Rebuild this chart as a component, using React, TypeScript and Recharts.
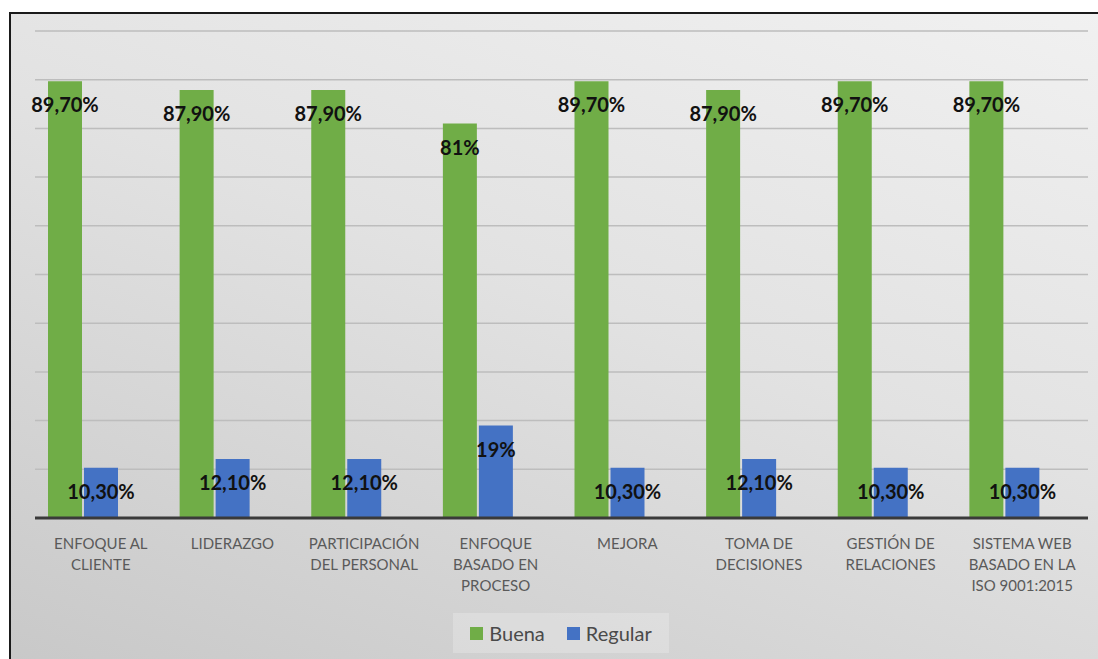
import { BarChart, Bar, XAxis, YAxis, CartesianGrid, LabelList } from 'recharts';

const categories = [
  'ENFOQUE AL\nCLIENTE',
  'LIDERAZGO',
  'PARTICIPACIÓN\nDEL PERSONAL',
  'ENFOQUE\nBASADO EN\nPROCESO',
  'MEJORA',
  'TOMA DE\nDECISIONES',
  'GESTIÓN DE\nRELACIONES',
  'SISTEMA WEB\nBASADO EN LA\nISO 9001:2015',
];
const buena = [89.7, 87.9, 87.9, 81, 89.7, 87.9, 89.7, 89.7];
const regular = [10.3, 12.1, 12.1, 19, 10.3, 12.1, 10.3, 10.3];
const yTicks = [0, 10, 20, 30, 40, 50, 60, 70, 80, 90, 100];

const GREEN = '#70ad47';
const BLUE = '#4472c4';
const FONT = 'Lato, "Open Sans", sans-serif';

const data = categories.map((name, i) => ({ name, buena: buena[i], regular: regular[i], vacio: null }));

const fmt = (v: any) => {
  const n = Number(v);
  return Number.isInteger(n) ? `${n}%` : `${n.toFixed(2).replace('.', ',')}%`;
};

function CategoryTick({ x, y, payload }: any) {
  const lines = String(payload.value).split('\n');
  return (
    <text x={x} y={y} textAnchor="middle" fill="#5a5a5a" fontSize={15} fontFamily={FONT}>
      {lines.map((l, i) => (
        <tspan key={i} x={x} dy={i === 0 ? 23 : 21}>{l}</tspan>
      ))}
    </text>
  );
}

export default function App() {
  return (
    <>
      <style>{'html, body { margin: 0; padding: 0; overflow: hidden; }'}</style>
      <div style={{ position: 'fixed', left: 0, top: 0, width: 1098, height: 659, overflow: 'hidden', background: '#fff' }}>
        <div
          style={{
            position: 'absolute', left: 9, top: 12, width: 1200, height: 700,
            borderLeft: '2px solid #1a1a1a', borderTop: '2px solid #1a1a1a',
            background: 'linear-gradient(200deg, #f2f2f2 0%, #e2e2e2 45%, #c6c6c6 100%)',
          }}
        />
        <div style={{ position: 'absolute', left: 0, top: 0 }}>
          <BarChart
            width={1098}
            height={659}
            data={data}
            margin={{ top: 31, right: 10, bottom: 0, left: 35 }}
            barSize={34}
            barGap={2}
          >
            <CartesianGrid horizontal vertical={false} stroke="#bdbdbd" strokeWidth={1.5} />
            <YAxis hide domain={[0, 100]} ticks={yTicks} />
            <XAxis
              dataKey="name"
              height={141}
              interval={0}
              tickLine={false}
              axisLine={{ stroke: '#3a3a3a', strokeWidth: 3 }}
              tick={<CategoryTick />}
            />
            <Bar dataKey="buena" fill={GREEN} isAnimationActive={false}>
              <LabelList dataKey="buena" position="insideTop" offset={17} formatter={fmt}
                style={{ fill: '#111', fontSize: 20, fontWeight: 700, fontFamily: FONT }} />
            </Bar>
            <Bar dataKey="regular" fill={BLUE} isAnimationActive={false}>
              <LabelList dataKey="regular" position="insideTop" offset={17} formatter={fmt}
                style={{ fill: '#111', fontSize: 20, fontWeight: 700, fontFamily: FONT }} />
            </Bar>
            <Bar dataKey="vacio" fill="none" isAnimationActive={false} />
          </BarChart>
        </div>
        <div
          style={{
            position: 'absolute', left: 453, top: 613, width: 216, height: 40,
            background: 'rgba(255,255,255,0.22)', display: 'flex', alignItems: 'center',
            justifyContent: 'center', gap: 22, fontFamily: FONT, fontSize: 20, color: '#4a4a4a',
          }}
        >
          <span style={{ display: 'flex', alignItems: 'center', gap: 6 }}>
            <span style={{ width: 13, height: 13, background: GREEN, display: 'inline-block' }} />
            Buena
          </span>
          <span style={{ display: 'flex', alignItems: 'center', gap: 6 }}>
            <span style={{ width: 13, height: 13, background: BLUE, display: 'inline-block' }} />
            Regular
          </span>
        </div>
      </div>
    </>
  );
}
